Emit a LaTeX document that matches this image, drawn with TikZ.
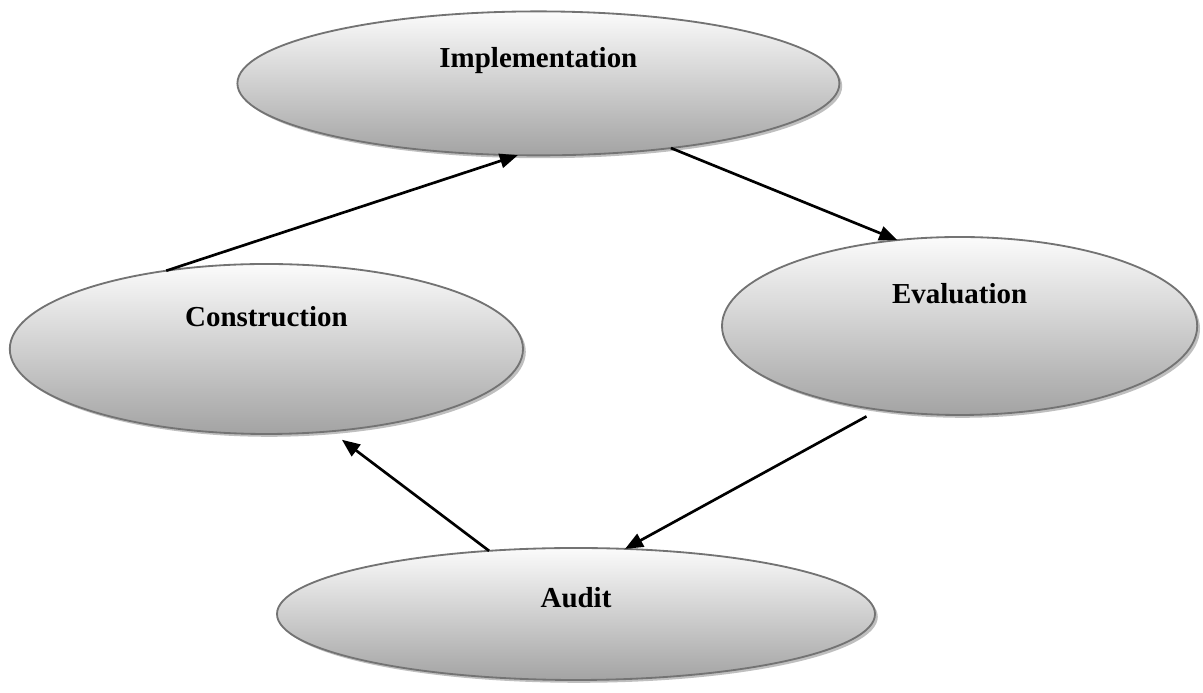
\documentclass[tikz,border=0pt]{standalone}
\usepackage{fontspec}
\setmainfont{Liberation Serif}
\usepackage{tikz}
\usetikzlibrary{positioning, arrows.meta, shapes.geometric, shadows}

\begin{document}
\begin{tikzpicture}[
  stage/.style={ellipse, draw=black!55, line width=1.3pt, outer sep=0pt, inner sep=0pt,
    top color=gray!3, bottom color=gray!72,
    drop shadow={shadow xshift=0.07cm, shadow yshift=-0.07cm, fill=black!25, opacity=1},
    font=\fontsize{20.6}{24}\selectfont\bfseries},
  arrow/.style={-{Triangle[length=4.5mm,width=3.6mm]}, line width=1.9pt}
]
\useasboundingbox (0,0) rectangle (30.075,17.325);

\node[stage, minimum width=15.05cm, minimum height=3.6cm] (impl) at (13.46,15.24)
  {\raisebox{0.39cm}[0pt][0pt]{Implementation}};
\node[stage, minimum width=12.83cm, minimum height=4.25cm] (constr) at (6.66,8.6)
  {\raisebox{0.57cm}[0pt][0pt]{Construction}};
\node[stage, minimum width=11.88cm, minimum height=4.45cm] (eval) at (23.99,9.175)
  {\raisebox{0.55cm}[0pt][0pt]{Evaluation}};
\node[stage, minimum width=14.95cm, minimum height=3.3cm] (audit) at (14.4,1.975)
  {\raisebox{0.15cm}[0pt][0pt]{Audit}};

\draw[arrow] (constr.142) -- (impl.254);
\draw[arrow] (impl.334) -- (eval.126);
\draw[arrow, shorten <=0.35cm] (eval.226) -- (audit.53);
\draw[arrow, shorten >=0.35cm] (audit.144) -- (constr.308);
\end{tikzpicture}
\end{document}
